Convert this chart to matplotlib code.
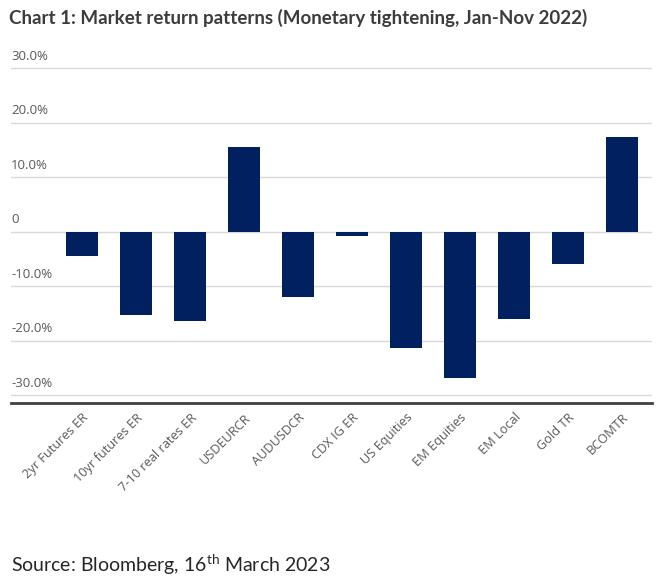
import matplotlib.pyplot as plt

plt.rcParams['font.family'] = ['Open Sans', 'DejaVu Sans']
plt.rcParams['mathtext.fontset'] = 'custom'
plt.rcParams['mathtext.rm'] = 'Lato'

categories = ["2yr Futures ER", "10yr futures ER", "7-10 real rates ER", "USDEURCR",
              "AUDUSDCR", "CDX IG ER", "US Equities", "EM Equities", "EM Local",
              "Gold TR", "BCOMTR"]
returns = [-4.5, -15.2, -16.4, 15.5, -11.9, -0.8, -21.4, -26.9, -16.0, -5.9, 17.3]
yticks = [30, 20, 10, 0, -10, -20, -30]
ytick_labels = ["30.0%", "20.0%", "10.0%", "0", "-10.0%", "-20.0%", "-30.0%"]

fig = plt.figure(figsize=(6.64, 5.82), dpi=100)
ax = fig.add_axes([11 / 664, 179.3 / 582, 641 / 664, 336.7 / 582])

x = list(range(len(categories)))
ax.bar(x, returns, width=0.6, color='#002060', zorder=3)

ax.set_xlim(-1.315, 10.555)
ax.set_ylim(-31.35, 30.37)

for v in yticks:
    ax.axhline(v, color='#d9d9d9', lw=1, zorder=1)
ax.set_yticks([])
for v, lab in zip(yticks, ytick_labels):
    ax.text(0, v + 1.0, lab, transform=ax.get_yaxis_transform(), ha='left', va='bottom',
            fontsize=9.5, color='#595959')

ax.set_xticks(x)
ax.set_xticklabels(categories, rotation=45, ha='right', rotation_mode='anchor',
                   fontsize=9.2, color='#595959')
ax.tick_params(axis='x', length=0, pad=6)

for s in ['top', 'right', 'left']:
    ax.spines[s].set_visible(False)
ax.spines['bottom'].set_color('#404040')
ax.spines['bottom'].set_linewidth(2)

fig.text(9 / 664, 1 - 18 / 582, "Chart 1: Market return patterns (Monetary tightening, Jan-Nov 2022)",
         family=['Lato', 'DejaVu Sans'], fontweight='bold', fontsize=13.5, color='#3c3c3c',
         ha='left', va='center')
fig.text(11 / 664, 1 - 565 / 582, r"Source: Bloomberg, 16$^{\mathrm{th}}$ March 2023",
         family=['Lato', 'DejaVu Sans'], fontsize=14, color='#262626', ha='left', va='center')

fig.savefig("out.png", dpi=100)
